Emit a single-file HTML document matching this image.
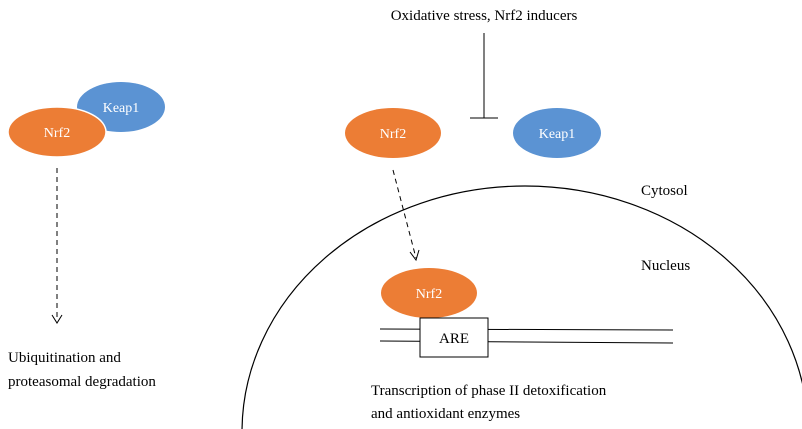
<!DOCTYPE html>
<html><head><meta charset="utf-8"><style>html,body{margin:0;background:#fff;overflow:hidden;width:802px;height:429px}</style></head><body>
<svg width="802" height="429" viewBox="0 0 802 429" xmlns="http://www.w3.org/2000/svg" style="display:block;font-family:'Liberation Serif',serif">
<ellipse cx="525" cy="432" rx="283" ry="246" fill="none" stroke="#000" stroke-width="1.2"/>
<ellipse cx="121" cy="107" rx="44" ry="25" fill="#5b93d3"/>
<ellipse cx="57" cy="132" rx="49" ry="25" fill="#ec7d35" stroke="#fff" stroke-width="1.5"/>
<text x="121" y="112" font-size="14" fill="#fff" text-anchor="middle">Keap1</text>
<text x="57" y="137" font-size="14" fill="#fff" text-anchor="middle">Nrf2</text>
<line x1="57" y1="168" x2="57" y2="320" stroke="#000" stroke-dasharray="5,4"/>
<path d="M52 315 L57 323 L62 315" fill="none" stroke="#000"/>
<text x="8" y="362" font-size="15">Ubiquitination and</text>
<text x="8" y="386" font-size="15">proteasomal degradation</text>
<text x="484" y="20" font-size="15" text-anchor="middle">Oxidative stress, Nrf2 inducers</text>
<line x1="484" y1="33" x2="484" y2="118" stroke="#000"/>
<line x1="470" y1="118" x2="498" y2="118" stroke="#000"/>
<ellipse cx="393" cy="133" rx="48" ry="25" fill="#ec7d35"/>
<text x="393" y="138" font-size="14" fill="#fff" text-anchor="middle">Nrf2</text>
<ellipse cx="557" cy="133" rx="44" ry="25" fill="#5b93d3"/>
<text x="557" y="138" font-size="14" fill="#fff" text-anchor="middle">Keap1</text>
<line x1="393" y1="170" x2="416" y2="258" stroke="#000" stroke-dasharray="5,4"/>
<path d="M410 252 L416 260 L419 250" fill="none" stroke="#000"/>
<text x="641" y="195" font-size="15">Cytosol</text>
<text x="641" y="270" font-size="15">Nucleus</text>
<ellipse cx="429" cy="293" rx="48" ry="25" fill="#ec7d35"/>
<text x="429" y="298" font-size="14" fill="#fff" text-anchor="middle">Nrf2</text>
<line x1="380" y1="329" x2="673" y2="330" stroke="#000"/>
<line x1="380" y1="341" x2="673" y2="343" stroke="#000"/>
<rect x="420" y="318" width="68" height="39" fill="#fff" stroke="#000"/>
<text x="454" y="343" font-size="15" text-anchor="middle">ARE</text>
<text x="371" y="395" font-size="15">Transcription of phase II detoxification</text>
<text x="371" y="418" font-size="15">and antioxidant enzymes</text>
</svg>
</body></html>
